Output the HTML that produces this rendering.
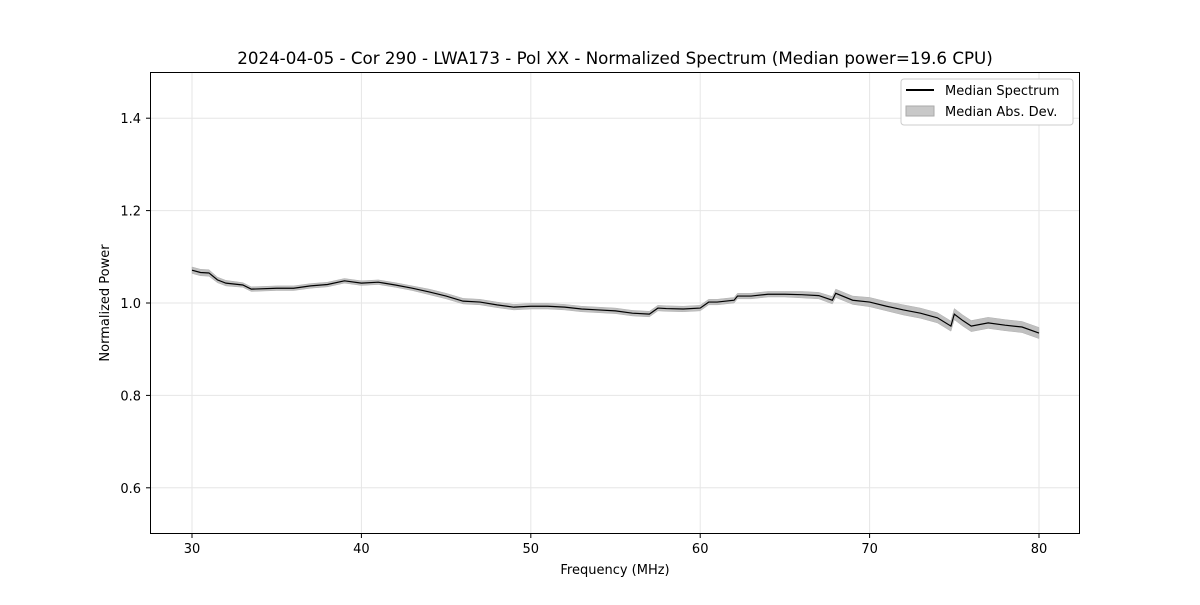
<!DOCTYPE html>
<html><head><meta charset="utf-8"><style>
body{margin:0;background:#fff;font-family:"Liberation Sans","DejaVu Sans",sans-serif}
svg text{font-family:"DejaVu Sans","Liberation Sans",sans-serif}
</style></head><body>
<svg id="chart" width="1200" height="600" xmlns="http://www.w3.org/2000/svg">
<rect width="1200" height="600" fill="#fff"/>
<g id="grid"></g>
<g id="band"></g>
<g id="line"></g>
<rect x="150.5" y="72.5" width="929" height="461" fill="none" stroke="#000" stroke-width="1"/>
<g id="ticks"></g>
<text x="615" y="64" font-size="16.7" text-anchor="middle">2024-04-05 - Cor 290 - LWA173 - Pol XX - Normalized Spectrum (Median power=19.6 CPU)</text>
<text x="615" y="574" font-size="13" text-anchor="middle">Frequency (MHz)</text>
<text transform="translate(109,303) rotate(-90)" font-size="13" text-anchor="middle">Normalized Power</text>
<g>
<rect x="901" y="79" width="172" height="46" rx="3" fill="#fff" stroke="#ccc"/>
<line x1="906" y1="90" x2="934" y2="90" stroke="#000" stroke-width="2"/>
<text x="945" y="95" font-size="13">Median Spectrum</text>
<rect x="906" y="106" width="28" height="10" fill="#c8c8c8" stroke="#aaa"/>
<text x="945" y="116" font-size="13">Median Abs. Dev.</text>
</g>
</svg>
<script>
const freqs=[30,30.5,31,31.5,32,33,33.5,35,36,37,38,39,40,41,42,43,44,45,46,47,48,49,50,51,52,53,54,55,56,57,57.5,58,59,60,60.5,61,62,62.2,63,64,65,66,67,67.8,68,69,70,71,72,73,74,74.8,75,75.5,76,77,78,79,80];
const median=[1.071,1.066,1.065,1.050,1.043,1.039,1.030,1.032,1.032,1.037,1.040,1.048,1.043,1.045,1.039,1.032,1.024,1.015,1.004,1.002,0.996,0.991,0.993,0.993,0.991,0.987,0.985,0.983,0.978,0.976,0.989,0.988,0.987,0.989,1.002,1.002,1.006,1.015,1.015,1.019,1.019,1.018,1.016,1.006,1.021,1.006,1.002,0.993,0.985,0.978,0.968,0.950,0.976,0.962,0.950,0.957,0.952,0.948,0.935];
const mad=[0.007,0.007,0.007,0.006,0.006,0.005,0.005,0.005,0.005,0.005,0.005,0.005,0.005,0.005,0.005,0.005,0.006,0.006,0.006,0.006,0.006,0.006,0.006,0.006,0.006,0.006,0.006,0.006,0.006,0.006,0.006,0.006,0.006,0.006,0.006,0.006,0.006,0.006,0.006,0.006,0.006,0.007,0.007,0.008,0.009,0.009,0.010,0.010,0.011,0.011,0.011,0.011,0.012,0.012,0.012,0.012,0.012,0.012,0.012];
const xTicks=[30,40,50,60,70,80];
const yTicks=[0.6,0.8,1.0,1.2,1.4];
const NS="http://www.w3.org/2000/svg";
const X=v=>150+(v-27.52)/(82.42-27.52)*930;
const Y=v=>534-(v-0.5)/1.0*462;
function mk(t,a,p){const e=document.createElementNS(NS,t);for(const k in a)e.setAttribute(k,a[k]);p.appendChild(e);return e;}
const grid=document.getElementById('grid'),ticks=document.getElementById('ticks');
xTicks.forEach(v=>{const x=X(v);
const g=mk('line',{x1:x,x2:x,y1:72,y2:534,stroke:'#e6e6e6'},grid);

const t=mk('line',{x1:x,x2:x,y1:534,y2:538,stroke:'#000'},ticks);

const l=mk('text',{x:x,y:553,'font-size':13,'text-anchor':'middle'},ticks);l.textContent=v;
});
yTicks.forEach(v=>{const y=Y(v);
const g=mk('line',{x1:150,x2:1080,y1:y,y2:y,stroke:'#e6e6e6'},grid);

const t=mk('line',{x1:146,x2:150,y1:y,y2:y,stroke:'#000'},ticks);

const l=mk('text',{x:141,y:y+5,'font-size':13,'text-anchor':'end'},ticks);l.textContent=v.toFixed(1);
});
let up=freqs.map((f,i)=>X(f)+','+Y(median[i]+mad[i]));
let dn=freqs.map((f,i)=>X(f)+','+Y(median[i]-mad[i])).reverse();
const b=mk('polygon',{points:up.concat(dn).join(' '),fill:'#c0c0c0',stroke:'#b0b0b0','stroke-width':0.5},document.getElementById('band'));

const ln=mk('polyline',{points:freqs.map((f,i)=>X(f)+','+Y(median[i])).join(' '),fill:'none',stroke:'#000','stroke-width':1.2},document.getElementById('line'));

</script>
</body></html>
